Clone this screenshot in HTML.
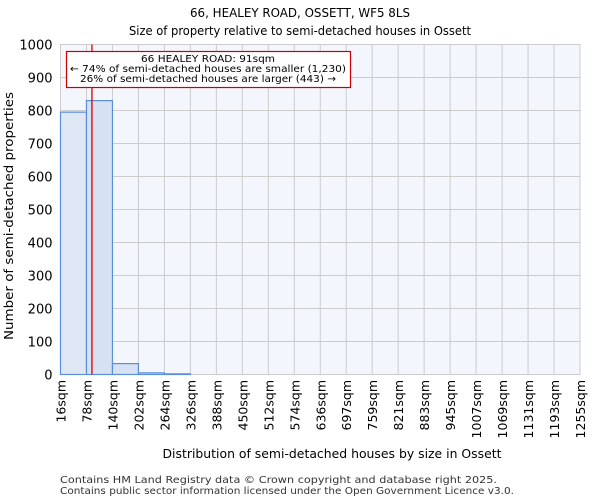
<!DOCTYPE html>
<html><head><meta charset="utf-8"><style>
body{margin:0;background:#fff;font-family:"DejaVu Sans","Liberation Sans",sans-serif;}
svg text{font-family:"DejaVu Sans","Liberation Sans",sans-serif;}
</style></head><body>
<svg id="chart" width="600" height="500" xmlns="http://www.w3.org/2000/svg">
<text x="300" y="17" text-anchor="middle" font-size="12" textLength="220" lengthAdjust="spacingAndGlyphs">66, HEALEY ROAD, OSSETT, WF5 8LS</text>
<text x="300" y="35" text-anchor="middle" font-size="12" textLength="342" lengthAdjust="spacingAndGlyphs">Size of property relative to semi-detached houses in Ossett</text>
<rect x="60.5" y="44.5" width="519.5" height="330" fill="#f3f6fd" stroke="#ccc"/>
<g id="grid"></g>
<g id="bars"></g>
<g id="xticks"></g>
<g id="yticks"></g>
<line id="marker" stroke="#d00" stroke-width="1.3"/>
<rect x="66.5" y="51.5" width="284" height="36" fill="#fff" stroke="#c00" stroke-width="1.2"/>
<text x="208" y="62" text-anchor="middle" font-size="10" textLength="134" lengthAdjust="spacingAndGlyphs">66 HEALEY ROAD: 91sqm</text>
<text x="208" y="72" text-anchor="middle" font-size="10" textLength="276" lengthAdjust="spacingAndGlyphs">← 74% of semi-detached houses are smaller (1,230)</text>
<text x="208" y="82" text-anchor="middle" font-size="10" textLength="256" lengthAdjust="spacingAndGlyphs">26% of semi-detached houses are larger (443) →</text>
<text x="332" y="458" text-anchor="middle" font-size="12" textLength="339" lengthAdjust="spacingAndGlyphs">Distribution of semi-detached houses by size in Ossett</text>
<text transform="translate(13,216) rotate(-90)" text-anchor="middle" font-size="12" textLength="248" lengthAdjust="spacingAndGlyphs">Number of semi-detached properties</text>
<text x="60" y="483" font-size="10" fill="#333" textLength="437" lengthAdjust="spacingAndGlyphs">Contains HM Land Registry data © Crown copyright and database right 2025.</text>
<text x="60" y="494" font-size="10" fill="#333" textLength="454" lengthAdjust="spacingAndGlyphs">Contains public sector information licensed under the Open Government Licence v3.0.</text>
</svg>
<script>
const tickLabels=["16sqm","78sqm","140sqm","202sqm","264sqm","326sqm","388sqm","450sqm","512sqm","574sqm","636sqm","697sqm","759sqm","821sqm","883sqm","945sqm","1007sqm","1069sqm","1131sqm","1193sqm","1255sqm"];
const counts=[795,830,33,5,2,0,0,0,0,0,0,0,0,0,0,0,0,0,0,0];
const yTicks=[0,100,200,300,400,500,600,700,800,900,1000];
const propertySize=91;
const NS="http://www.w3.org/2000/svg";
const x0=60.5,x1=580,y0=374.5,y1=44.5,xmin=16,xmax=1255;
const bw=(x1-x0)/counts.length;
const xs=i=>x0+i*bw;
const xv=v=>x0+(v-xmin)/(xmax-xmin)*(x1-x0);
const ys=v=>y0-v/1000*(y0-y1);
function mk(t,a,p){const e=document.createElementNS(NS,t);for(const k in a)e.setAttribute(k,a[k]);p.appendChild(e);return e;}
const grid=document.getElementById('grid'),bars=document.getElementById('bars'),xt=document.getElementById('xticks'),yt=document.getElementById('yticks');
yTicks.forEach(v=>{
 const l=mk('line',{x1:x0,x2:x1,y1:ys(v),y2:ys(v),stroke:'#ccc'},grid);
 
 
 const t=mk('text',{x:x0-8,y:ys(v)+5,'text-anchor':'end','font-size':'13'},yt);
 
 
 t.textContent=v;
});
tickLabels.forEach((s,i)=>{
 const l=mk('line',{x1:xs(i),x2:xs(i),y1:y1,y2:y0,stroke:'#ccc'},grid);
 
 
 const t=mk('text',{transform:`translate(${xs(i)+5},380) rotate(-90)`,'text-anchor':'end','font-size':'12.5'},xt);
 
 
 t.textContent=s;
});
counts.forEach((c,i)=>{
 if(c<=0)return;
 const r=mk('rect',{x:xs(i),y:ys(c),width:bw,height:y0-ys(c),fill:i==0?'#dfe7f5':'#d6e1f4',stroke:'#5b8fd6','stroke-width':'1.2'},bars);
 
 
});
const m=document.getElementById('marker');
const mx=xv(propertySize);
m.setAttribute('x1',mx);m.setAttribute('x2',mx);m.setAttribute('y1',y1);m.setAttribute('y2',y0);
</script>
</body></html>
